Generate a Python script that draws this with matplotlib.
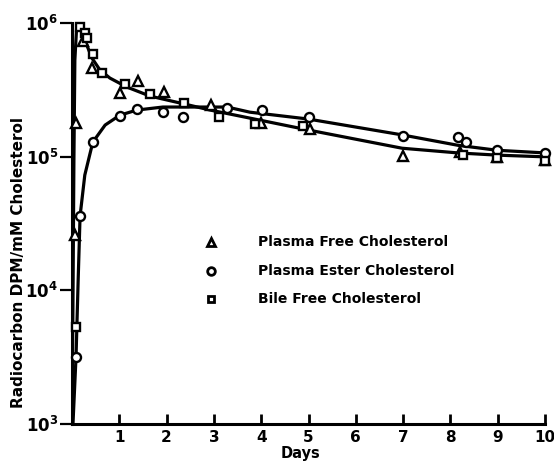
import matplotlib
matplotlib.use("Agg")
import matplotlib.pyplot as plt
from matplotlib.ticker import FixedLocator, FixedFormatter, NullLocator

plt.rcParams['font.family'] = ['DejaVu Sans']
plt.rcParams['mathtext.fontset'] = 'custom'
plt.rcParams['mathtext.bf'] = 'DejaVu Sans:bold'

# ---- data (days, DPM per mM cholesterol) ----
free_days = [0.06, 0.085, 0.23, 0.42, 1.01, 1.40, 1.95, 2.94, 4.00, 5.03, 7.00, 8.20, 8.98, 10.0]
free_vals = [2.6e4, 1.8e5, 7.4e5, 4.6e5, 3.0e5, 3.7e5, 3.05e5, 2.44e5, 1.8e5, 1.62e5, 1.01e5, 1.09e5, 1.0e5, 9.5e4]

ester_days = [0.085, 0.17, 0.44, 1.01, 1.37, 1.92, 2.35, 3.28, 4.02, 5.01, 7.00, 8.16, 8.33, 8.98, 10.0]
ester_vals = [3.2e3, 3.6e4, 1.29e5, 2.02e5, 2.28e5, 2.16e5, 1.99e5, 2.32e5, 2.24e5, 1.99e5, 1.43e5, 1.41e5, 1.29e5, 1.12e5, 1.07e5]

bile_days = [0.085, 0.17, 0.27, 0.32, 0.44, 0.63, 1.12, 1.65, 2.37, 3.11, 3.87, 4.88, 8.27, 8.98, 10.0]
bile_vals = [5.3e3, 9.4e5, 8.5e5, 7.7e5, 5.9e5, 4.24e5, 3.5e5, 2.95e5, 2.53e5, 1.99e5, 1.76e5, 1.70e5, 1.03e5, 9.8e4, 9.3e4]

# hand-drawn fitted curves
free_curve_days = [0.0, 0.02, 0.04, 0.06, 0.10, 0.17, 0.27, 0.42, 0.59, 0.80, 1.16, 1.65, 2.39,
                   2.92, 3.76, 4.99, 6.98, 8.16, 8.99, 10.0]
free_curve_vals = [1.0e3, 8.5e3, 9.5e4, 5.3e5, 9.7e5, 9.2e5, 7.5e5, 5.5e5, 4.47e5, 3.89e5, 3.33e5,
                   2.85e5, 2.48e5, 2.24e5, 1.95e5, 1.59e5, 1.16e5, 1.07e5, 1.03e5, 1.0e5]

ester_curve_days = [0.02, 0.085, 0.13, 0.17, 0.27, 0.44, 0.70, 1.01, 1.37, 1.92, 2.35, 3.28, 3.76,
                    4.99, 6.98, 8.16, 8.99, 10.0]
ester_curve_vals = [1.0e3, 3.2e3, 1.2e4, 3.6e4, 7.3e4, 1.29e5, 1.73e5, 2.05e5, 2.24e5, 2.36e5,
                    2.36e5, 2.36e5, 2.16e5, 1.92e5, 1.46e5, 1.22e5, 1.12e5, 1.07e5]

series_labels = ["Plasma Free Cholesterol", "Plasma Ester Cholesterol", "Bile Free Cholesterol"]
x_ticks = [1, 2, 3, 4, 5, 6, 7, 8, 9, 10]
y_ticks = [1e3, 1e4, 1e5, 1e6]
y_tick_labels = [r'$\mathbf{10^{3}}$', r'$\mathbf{10^{4}}$', r'$\mathbf{10^{5}}$', r'$\mathbf{10^{6}}$']

fig = plt.figure(figsize=(5.54, 4.61), dpi=100)
ax = fig.add_axes([0.130, 0.0803, 0.8538, 0.8692])

ax.set_yscale('log')
ax.set_xlim(0, 10)
ax.set_ylim(1e3, 1e6)

lw = 2.3
ax.plot(free_curve_days, free_curve_vals, color='black', lw=lw, solid_joinstyle='round', zorder=2)
ax.plot(ester_curve_days, ester_curve_vals, color='black', lw=lw, solid_joinstyle='round', zorder=2)

mk = dict(linestyle='none', markerfacecolor='white', markeredgecolor='black',
          markeredgewidth=1.7, clip_on=False, zorder=3)
ax.plot(free_days, free_vals, marker='^', markersize=7, **mk)
ax.plot(ester_days, ester_vals, marker='o', markersize=6.5, **mk)
ax.plot(bile_days, bile_vals, marker='s', markersize=6, **mk)

# legend as in the figure (markers + labels inside plot)
leg_y = [0.455, 0.383, 0.313]
leg_markers = ['^', 'o', 's']
leg_sizes = [6, 5.5, 5]
for yy, m, s, lab in zip(leg_y, leg_markers, leg_sizes, series_labels):
    ax.plot([0.293], [yy], transform=ax.transAxes, marker=m, markersize=s,
            markerfacecolor='white', markeredgecolor='black', markeredgewidth=2.0,
            linestyle='none', clip_on=False)
    ax.text(0.393, yy, lab, transform=ax.transAxes, fontsize=10, fontweight='bold',
            va='center', ha='left')

for sp in ['top', 'right']:
    ax.spines[sp].set_visible(False)
for sp in ['left', 'bottom']:
    ax.spines[sp].set_linewidth(2.2)

ax.xaxis.set_major_locator(FixedLocator(x_ticks))
ax.xaxis.set_major_formatter(FixedFormatter([str(v) for v in x_ticks]))
ax.xaxis.set_minor_locator(NullLocator())
ax.yaxis.set_major_locator(FixedLocator(y_ticks))
ax.yaxis.set_major_formatter(FixedFormatter(y_tick_labels))
ax.yaxis.set_minor_locator(NullLocator())

ax.tick_params(axis='x', direction='in', length=7, width=2, labelsize=11, pad=4)
ax.tick_params(axis='y', direction='out', length=9, width=1.6, labelsize=12, pad=1)
for lab in ax.get_xticklabels():
    lab.set_fontweight('bold')

ax.set_xlabel('Days', fontsize=10.5, fontweight='bold')
ax.xaxis.set_label_coords(0.484, -0.056)
ax.set_ylabel('Radiocarbon DPM/mM Cholesterol', fontsize=11, fontweight='bold')
ax.yaxis.set_label_coords(-0.098, 0.404)

fig.savefig('out.png', dpi=100)
